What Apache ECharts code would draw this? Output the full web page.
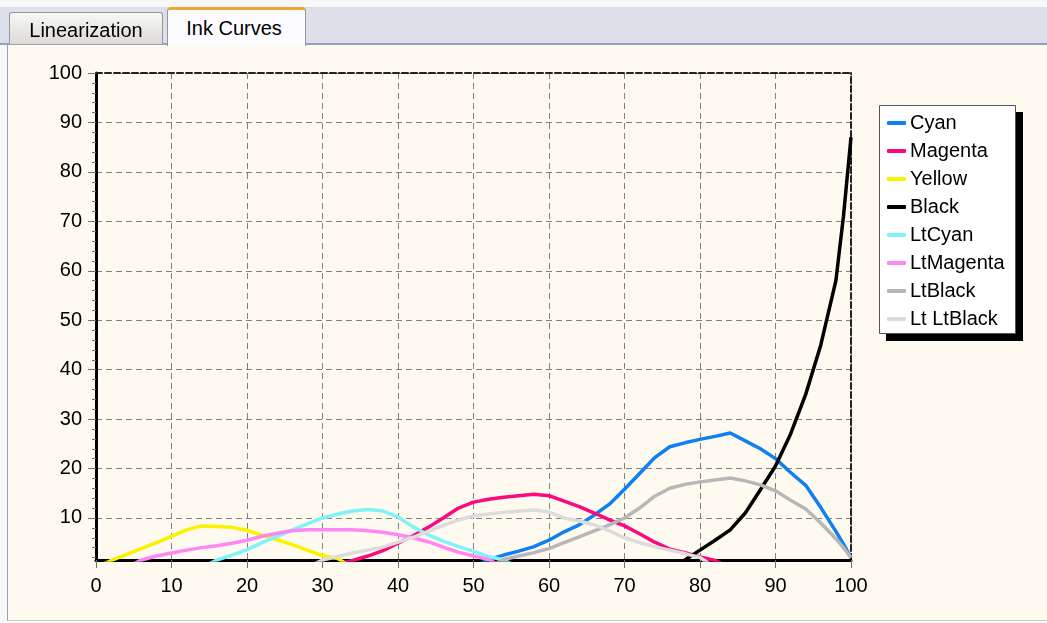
<!DOCTYPE html>
<html><head><meta charset="utf-8">
<script src="https://cdn.jsdelivr.net/npm/echarts@6/dist/echarts.min.js"></script>
<style>
html,body{margin:0;padding:0;width:1047px;height:623px;overflow:hidden;background:#f8f8f8;font-family:'Liberation Sans',Arial,sans-serif;}
#strip{position:absolute;left:0;top:7px;width:1047px;height:36px;background:#dde0ea;border-bottom:2px solid #9a9dc6;}
#panel{position:absolute;left:7px;top:45px;width:1040px;height:576px;background:#fefaef;border-left:1px solid #9ea1c4;border-bottom:1px solid #c9c9c9;box-sizing:border-box;}
#chart{position:absolute;left:0;top:0;width:1047px;height:623px;}
.tab{position:absolute;box-sizing:border-box;font-size:20px;color:#000;display:flex;align-items:center;justify-content:center;white-space:nowrap;}
#tab1{left:9px;top:12px;width:154px;height:32px;padding-top:3px;background:linear-gradient(#f8f8f5,#dcdad3);border:1px solid #8e9aa0;border-bottom:none;border-radius:3px 3px 0 0;}
#tab2{left:167px;top:7px;width:139px;height:39px;padding-right:5px;background:#fcfcfe;border:1px solid #8e9aa0;border-top:3px solid #f3a533;border-bottom:none;border-radius:4px 4px 0 0;}
</style>
</head>
<body>
<div id="strip"></div>
<div id="panel"></div>
<div id="chart"></div>
<div class="tab" id="tab1">Linearization</div>
<div class="tab" id="tab2">Ink Curves</div>
<script>
// Ink percentage (x) sampled every 2 units (plus 99 for the steep end)
const inputPct = [0,2,4,6,8,10,12,14,16,18,20,22,24,26,28,30,32,34,36,38,40,42,44,46,48,50,52,54,56,58,60,62,64,66,68,70,72,74,76,78,80,82,84,86,88,90,92,94,96,98,99,100];

const cyan = [0,0,0,0,0,0,0,0,0,0,0,0,0,0,0,0,0,0,0,0,0,0,0,0,0,0,
  1.6,2.5,3.3,4.2,5.5,7.2,8.6,10.6,12.8,15.8,19,22.2,24.4,25.2,25.9,26.5,27.2,25.6,24,22,19.2,16.6,12.1,7.3,4.7,2];
const magenta = [0,0,0,0,0,0,0,0,0,0,0,0,0,0,0,0,
  0.6,1.4,2.3,3.4,4.9,6.4,8.1,10,12,13.2,13.8,14.2,14.5,14.8,14.5,13.4,12.3,11,9.6,8.4,6.8,5.1,3.7,3,2.1,1.4,
  0,0,0,0,0,0,0,0,0,0];
const yellow = [0,1.4,2.6,3.8,5.0,6.3,7.6,8.4,8.3,8.1,7.5,6.5,5.6,4.6,3.5,2.4,1.8,0,
  0,0,0,0,0,0,0,0,0,0,0,0,0,0,0,0,0,0,0,0,0,0,0,0,0,0,0,0,0,0,0,0,0,0];
const black = [0,0,0,0,0,0,0,0,0,0,0,0,0,0,0,0,0,0,0,0,0,0,0,0,0,0,0,0,0,0,0,0,0,0,0,0,0,0,0,
  1.5,3.5,5.5,7.6,11,15.7,20.5,27,35,45,58,71,87];
const ltCyan = [0,0,0,0,0,0,0,0,
  1.5,2.5,3.6,5,6.3,7.6,8.8,10,10.8,11.4,11.7,11.4,10.2,8.2,6.6,5.3,4.2,3.3,2.2,1.5,
  0,0,0,0,0,0,0,0,0,0,0,0,0,0,0,0,0,0,0,0,0,0,0,0];
const ltMagenta = [0,0,0,
  1.5,2.3,2.9,3.5,4.0,4.4,4.9,5.5,6.3,6.9,7.4,7.6,7.6,7.6,7.6,7.4,7.1,6.6,6,5.2,4.1,3.1,2.3,1.6,
  0,0,0,0,0,0,0,0,0,0,0,0,0,0,0,0,0,0,0,0,0,0,0,0,0];
const ltBlack = [0,0,0,0,0,0,0,0,0,0,0,0,0,0,0,0,0,0,0,0,0,0,0,0,0,0,0,
  1.6,2.3,3,3.8,5,6.2,7.4,8.6,10,12,14.4,16,16.8,17.3,17.7,18.1,17.5,16.7,15.5,13.6,11.8,9,5.8,4,2];
const ltLtBlack = [0,0,0,0,0,0,0,0,0,0,0,0,0,0,0,
  1.5,2.2,2.9,3.5,4.1,5.1,6.1,7.3,8.5,9.6,10.4,10.8,11.1,11.4,11.6,11.2,10,9.4,8.6,7.4,6,5,4.2,3.5,2.8,2.0,
  0,0,0,0,0,0,0,0,0,0,0];

const seriesNames = ['Cyan','Magenta','Yellow','Black','LtCyan','LtMagenta','LtBlack','Lt LtBlack'];
const seriesValues = [cyan, magenta, yellow, black, ltCyan, ltMagenta, ltBlack, ltLtBlack];
const seriesColors = ['#0f7ff2','#fa0a7e','#fbf200','#000000','#80f2f8','#ff86f4','#b7b7b7','#dcdcdc'];

const xTicks = [0,10,20,30,40,50,60,70,80,90,100];
const yTicks = [10,20,30,40,50,60,70,80,90,100];
const yMinorTicks = [2,4,6,8,12,14,16,18,22,24,26,28,32,34,36,38,42,44,46,48,52,54,56,58,62,64,66,68,72,74,76,78,82,84,86,88,92,94,96,98];

const chart = echarts.init(document.getElementById('chart'), null, {renderer: 'canvas'});
const font = 'Liberation Sans';
const gridRect = {left: 96, top: 73, width: 755, height: 487};

const series = seriesNames.map((name, i) => ({
  name: name,
  type: 'line',
  xAxisIndex: 0,
  yAxisIndex: 0,
  data: inputPct.map((x, k) => [x, seriesValues[i][k]]),
  showSymbol: false,
  symbol: 'none',
  color: seriesColors[i],
  itemStyle: {color: seriesColors[i]},
  lineStyle: {color: seriesColors[i], width: 3.5},
  clip: true,
  z: 3
}));

chart.setOption({
  animation: false,
  backgroundColor: 'transparent',
  textStyle: {fontFamily: font},
  grid: Object.assign({containLabel: false, outerBoundsMode: 'none'}, gridRect),
  graphic: [
    {type: 'rect', shape: {x: 886, y: 112, width: 137, height: 229}, style: {fill: '#000'}, z: 0},
    {type: 'rect', shape: {x: 879.5, y: 105.5, width: 136, height: 228}, style: {fill: '#fff', stroke: '#555', lineWidth: 1}, z: 1}
  ],
  legend: {
    data: seriesNames,
    orient: 'vertical',
    left: 887,
    top: 113,
    padding: 0,
    itemWidth: 19,
    itemHeight: 4,
    itemGap: 8,
    icon: 'roundRect',
    selectedMode: false,
    textStyle: {fontFamily: font, fontSize: 20, lineHeight: 20, color: '#000', padding: [0,0,0,-1]},
    z: 5
  },
  xAxis: [
    {
      type: 'value', min: 0, max: 100, interval: 10, position: 'bottom',
      axisLine: {show: true, onZero: false, lineStyle: {color: '#000', width: 3}},
      axisTick: {show: true, length: 8, inside: false, lineStyle: {color: '#707070', width: 1}},
      axisLabel: {show: true, fontFamily: font, fontSize: 20, lineHeight: 20, color: '#000', margin: 16},
      splitLine: {show: true, lineStyle: {color: '#808080', width: 1, type: [6, 4]}}
    },
    {
      type: 'value', min: 0, max: 100, interval: 10, position: 'top',
      axisLine: {show: true, onZero: false, lineStyle: {color: '#222', width: 2, type: [6, 3]}},
      axisTick: {show: false}, axisLabel: {show: false}, splitLine: {show: false}
    }
  ],
  yAxis: [
    {
      type: 'value', min: 1.5, max: 100, position: 'left',
      axisLine: {show: true, onZero: false, lineStyle: {color: '#000', width: 3}},
      axisTick: {show: true, length: 8, customValues: yTicks, lineStyle: {color: '#707070', width: 1}},
      axisLabel: {show: true, customValues: yTicks, fontFamily: font, fontSize: 20, color: '#000', margin: 14},
      splitLine: {show: true, lineStyle: {color: '#808080', width: 1, type: [6, 4]}}
    },
    {
      type: 'value', min: 1.5, max: 100, position: 'left',
      axisLine: {show: false},
      axisTick: {show: true, length: 4, customValues: yMinorTicks, lineStyle: {color: '#707070', width: 1}},
      axisLabel: {show: false}, splitLine: {show: false}
    },
    {
      type: 'value', min: 1.5, max: 100, position: 'right',
      axisLine: {show: true, onZero: false, lineStyle: {color: '#222', width: 2, type: [6, 3]}},
      axisTick: {show: false}, axisLabel: {show: false}, splitLine: {show: false}
    }
  ],
  series: series
});
</script>
</body></html>
